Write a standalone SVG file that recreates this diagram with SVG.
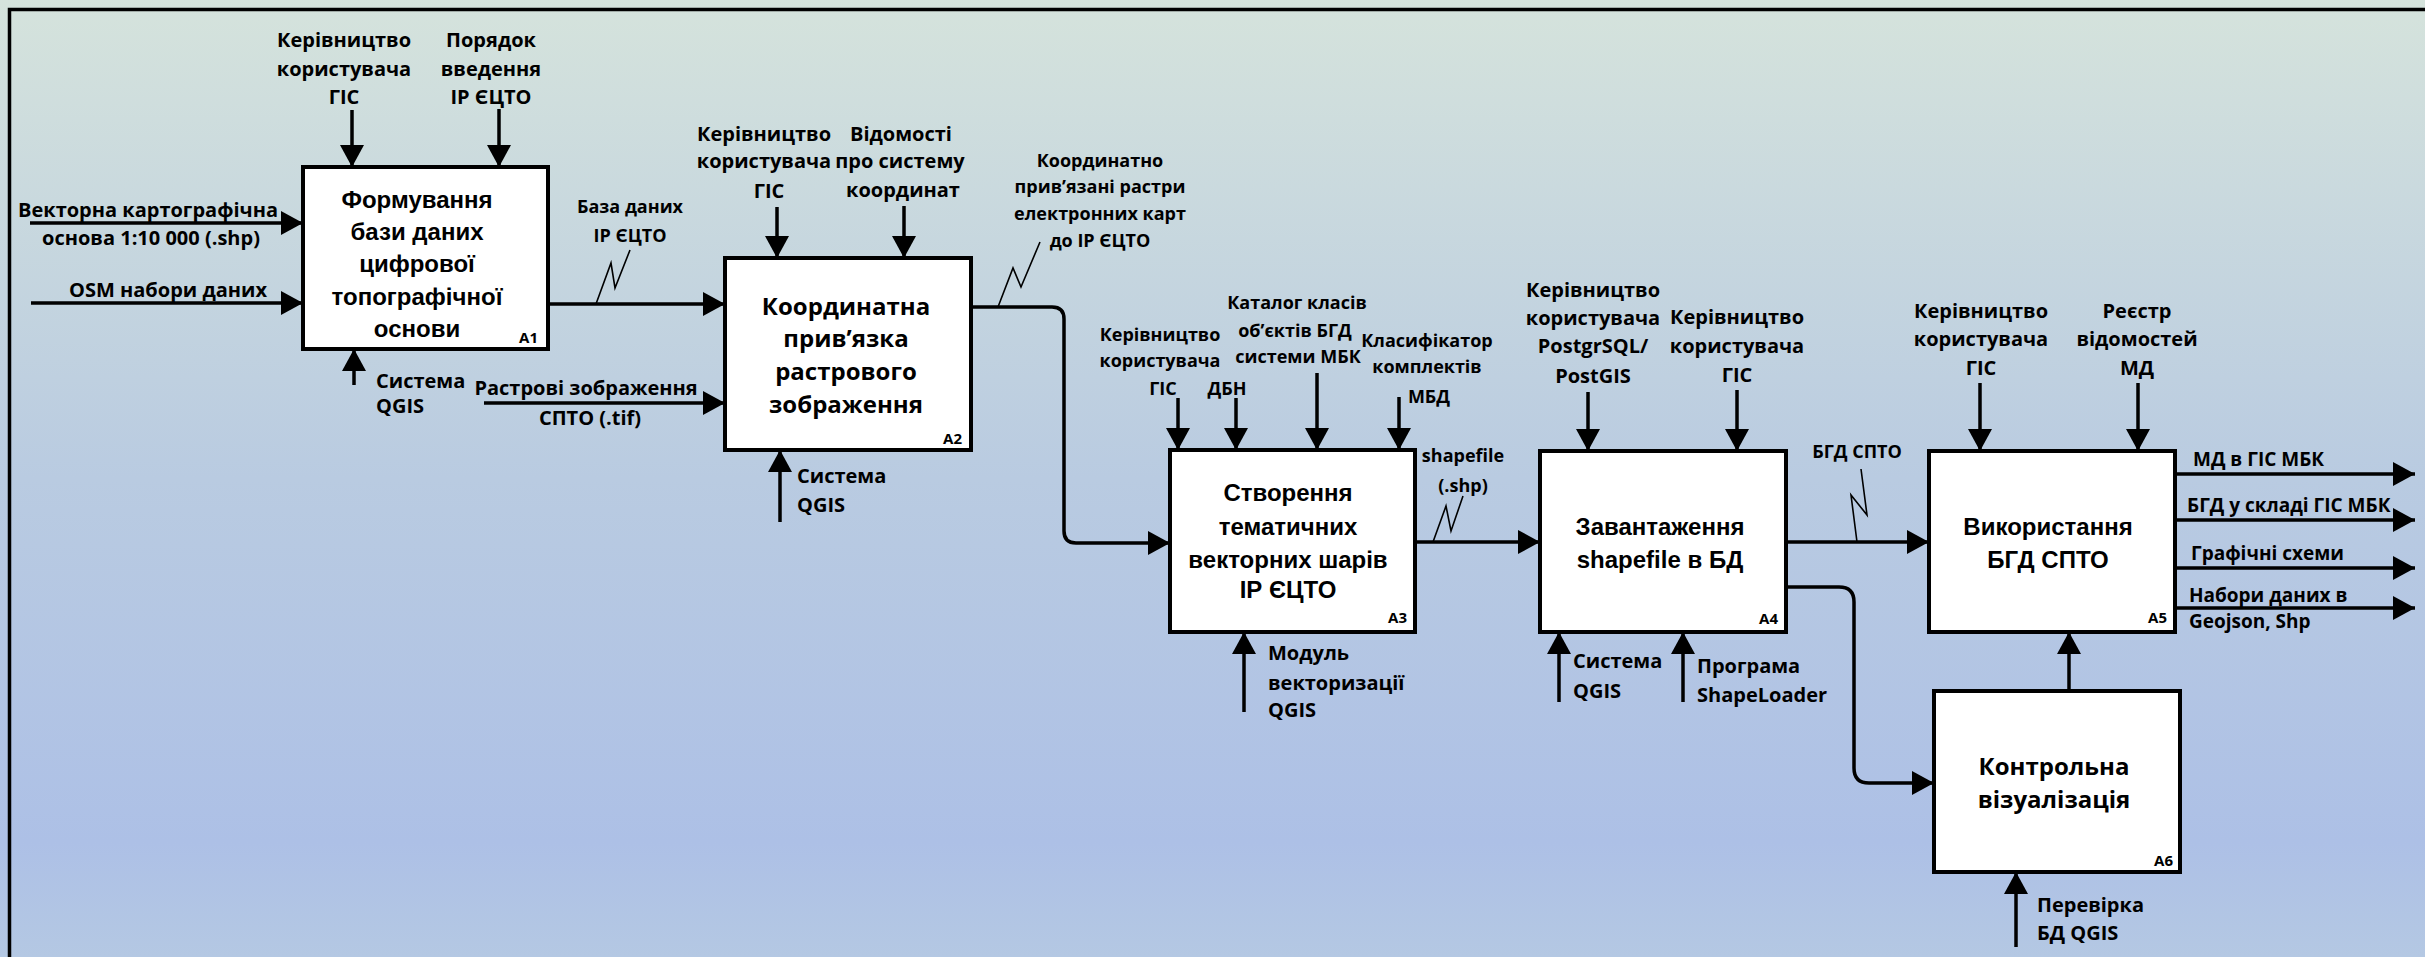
<svg xmlns="http://www.w3.org/2000/svg" width="2425" height="957" viewBox="0 0 2425 957">
<defs>
<linearGradient id="bg" x1="0" y1="0" x2="0" y2="1">
<stop offset="0" stop-color="#d5e3dc"/>
<stop offset="0.5" stop-color="#b9cbe1"/>
<stop offset="0.88" stop-color="#adc0e6"/>
<stop offset="1" stop-color="#b4c8e3"/>
</linearGradient>
<marker id="ah" markerUnits="userSpaceOnUse" markerWidth="22" markerHeight="24" viewBox="0 0 22 24" refX="22" refY="12" orient="auto">
<path d="M0,0 L22,12 L0,24 z" fill="#000"/>
</marker>
<style>
.box{fill:#fff;stroke:#000;stroke-width:4}
.c{fill:none;stroke:#000;stroke-width:3.5;marker-end:url(#ah)}
.z{fill:none;stroke:#000;stroke-width:1.6}
.lb{font-family:"Open Sans","Noto Sans",sans-serif;font-weight:bold;font-size:20px;fill:#000}
.m{text-anchor:middle}
.s18{font-size:18px}
.s19{font-size:19px}
.t1{font-family:"Liberation Sans",Arial,sans-serif;font-weight:bold;font-size:24px;text-anchor:middle;fill:#000}
.t2{font-family:"Open Sans","Noto Sans",sans-serif;font-weight:bold;font-size:24px;text-anchor:middle;fill:#000}
.id{font-family:"Open Sans","Noto Sans",sans-serif;font-weight:bold;font-size:15px;text-anchor:end;fill:#000}
</style>
</defs>
<rect x="0" y="0" width="2425" height="957" fill="url(#bg)"/>
<path d="M9.5,960 V9.5 H2430" fill="none" stroke="#000" stroke-width="3.5"/>

<g id="connectors">
<!-- A1 -->
<line class="c" x1="352" y1="110" x2="352" y2="167"/>
<line class="c" x1="499" y1="109" x2="499" y2="167"/>
<line class="c" x1="30" y1="223" x2="303" y2="223"/>
<line class="c" x1="31" y1="303" x2="303" y2="303"/>
<line class="c" x1="354" y1="385" x2="354" y2="349"/>
<line class="c" x1="548" y1="304" x2="725" y2="304"/>
<path class="z" d="M596,304 L611,263 L615,288 L630,250"/>
<line class="c" x1="484" y1="403" x2="725" y2="403"/>
<!-- A2 -->
<line class="c" x1="777" y1="207" x2="777" y2="258"/>
<line class="c" x1="904" y1="206" x2="904" y2="258"/>
<line class="c" x1="780" y1="522" x2="780" y2="450"/>
<path class="c" d="M971,307 H1052 Q1064,307 1064,319 V531 Q1064,543 1076,543 H1170"/>
<path class="z" d="M998,307 L1013,268 L1021,287 L1040,242"/>
<!-- A3 -->
<line class="c" x1="1178" y1="398" x2="1178" y2="450"/>
<line class="c" x1="1236" y1="398" x2="1236" y2="450"/>
<line class="c" x1="1317" y1="373" x2="1317" y2="450"/>
<line class="c" x1="1399" y1="397" x2="1399" y2="450"/>
<line class="c" x1="1244" y1="712" x2="1244" y2="632"/>
<line class="c" x1="1415" y1="542" x2="1540" y2="542"/>
<path class="z" d="M1433,542 L1446,506 L1451,531 L1463,496"/>
<!-- A4 -->
<line class="c" x1="1588" y1="392" x2="1588" y2="451"/>
<line class="c" x1="1737" y1="390" x2="1737" y2="451"/>
<line class="c" x1="1559" y1="702" x2="1559" y2="632"/>
<line class="c" x1="1683" y1="702" x2="1683" y2="632"/>
<line class="c" x1="1786" y1="542" x2="1929" y2="542"/>
<path class="z" d="M1857,542 L1851,495 L1867,515 L1861,469"/>
<path class="c" d="M1786,587 H1839 Q1854,587 1854,602 V768 Q1854,783 1869,783 H1934"/>
<!-- A5 -->
<line class="c" x1="1980" y1="383" x2="1980" y2="451"/>
<line class="c" x1="2138" y1="383" x2="2138" y2="451"/>
<line class="c" x1="2175" y1="474" x2="2415" y2="474"/>
<line class="c" x1="2175" y1="520" x2="2415" y2="520"/>
<line class="c" x1="2175" y1="568" x2="2415" y2="568"/>
<line class="c" x1="2175" y1="608" x2="2415" y2="608"/>
<!-- A6 -->
<line class="c" x1="2069" y1="691" x2="2069" y2="632"/>
<line class="c" x1="2016" y1="947" x2="2016" y2="872"/>

<!-- labels -->
<text class="lb m" x="344"><tspan x="344" y="47">Керівництво</tspan><tspan x="344" y="76">користувача</tspan><tspan x="344" y="104">ГІС</tspan></text>
<text class="lb m" x="491"><tspan x="491" y="47">Порядок</tspan><tspan x="491" y="76">введення</tspan><tspan x="491" y="104">ІР ЄЦТО</tspan></text>
<text class="lb m" x="148" y="217">Векторна картографічна</text>
<text class="lb m" x="151" y="245">основа 1:10 000 (.shp)</text>
<text class="lb m" x="168" y="297">OSM набори даних</text>
<text class="lb"><tspan x="376" y="388">Система</tspan><tspan x="376" y="413">QGIS</tspan></text>
<text class="lb m s18"><tspan x="630" y="213">База даних</tspan><tspan x="630" y="242">ІР ЄЦТО</tspan></text>
<text class="lb m" x="586" y="395">Растрові зображення</text>
<text class="lb m" x="590" y="425">СПТО (.tif)</text>

<text class="lb m"><tspan x="764" y="141">Керівництво</tspan><tspan x="764" y="168">користувача</tspan><tspan x="769" y="198">ГІС</tspan></text>
<text class="lb m"><tspan x="901" y="141">Відомості</tspan><tspan x="900" y="168">про систему</tspan><tspan x="903" y="197">координат</tspan></text>
<text class="lb"><tspan x="797" y="483">Система</tspan><tspan x="797" y="512">QGIS</tspan></text>
<text class="lb m s18"><tspan x="1100" y="167">Координатно</tspan><tspan x="1100" y="193">прив’язані растри</tspan><tspan x="1100" y="220">електронних карт</tspan><tspan x="1100" y="247">до ІР ЄЦТО</tspan></text>

<text class="lb m s18"><tspan x="1160" y="341">Керівництво</tspan><tspan x="1160" y="367">користувача</tspan><tspan x="1163" y="395">ГІС</tspan></text>
<text class="lb m s18" x="1227" y="395">ДБН</text>
<text class="lb m s18"><tspan x="1297" y="309">Каталог класів</tspan><tspan x="1295" y="337">об’єктів БГД</tspan><tspan x="1298" y="363">системи МБК</tspan></text>
<text class="lb m s18"><tspan x="1427" y="347">Класифікатор</tspan><tspan x="1427" y="373">комплектів</tspan><tspan x="1429" y="403">МБД</tspan></text>
<text class="lb"><tspan x="1268" y="660">Модуль</tspan><tspan x="1268" y="690">векторизації</tspan><tspan x="1268" y="717">QGIS</tspan></text>
<text class="lb m s18"><tspan x="1463" y="462">shapefile</tspan><tspan x="1463" y="492">(.shp)</tspan></text>

<text class="lb m"><tspan x="1593" y="297">Керівництво</tspan><tspan x="1593" y="325">користувача</tspan><tspan x="1593" y="353">PostgrSQL/</tspan><tspan x="1593" y="383">PostGIS</tspan></text>
<text class="lb m"><tspan x="1737" y="324">Керівництво</tspan><tspan x="1737" y="353">користувача</tspan><tspan x="1737" y="382">ГІС</tspan></text>
<text class="lb"><tspan x="1573" y="668">Система</tspan><tspan x="1573" y="698">QGIS</tspan></text>
<text class="lb"><tspan x="1697" y="673">Програма</tspan><tspan x="1697" y="702">ShapeLoader</tspan></text>
<text class="lb m s18" x="1857" y="458">БГД СПТО</text>

<text class="lb m"><tspan x="1981" y="318">Керівництво</tspan><tspan x="1981" y="346">користувача</tspan><tspan x="1981" y="375">ГІС</tspan></text>
<text class="lb m"><tspan x="2137" y="318">Реєстр</tspan><tspan x="2137" y="346">відомостей</tspan><tspan x="2137" y="375">МД</tspan></text>
<text class="lb s19" x="2193" y="466">МД в ГІС МБК</text>
<text class="lb s19" x="2187" y="512">БГД у складі ГІС МБК</text>
<text class="lb s19" x="2191" y="560">Графічні схеми</text>
<text class="lb s19"><tspan x="2189" y="602">Набори даних в</tspan><tspan x="2189" y="628">Geojson, Shp</tspan></text>
<text class="lb"><tspan x="2037" y="912">Перевірка</tspan><tspan x="2037" y="940">БД QGIS</tspan></text>
</g>

<g id="A1">
<rect class="box" x="303" y="167" width="245" height="182"/>
<text class="t1"><tspan x="417" y="208">Формування</tspan><tspan x="417" y="240">бази даних</tspan><tspan x="417" y="272">цифрової</tspan><tspan x="417" y="305">топографічної</tspan><tspan x="417" y="337">основи</tspan></text>
<text class="id" x="538" y="343">A1</text>
</g>
<g id="A2">
<rect class="box" x="725" y="258" width="246" height="192"/>
<text class="t2"><tspan x="846" y="315">Координатна</tspan><tspan x="846" y="347">прив’язка</tspan><tspan x="846" y="380">растрового</tspan><tspan x="846" y="413">зображення</tspan></text>
<text class="id" x="962" y="444">A2</text>
</g>
<g id="A3">
<rect class="box" x="1170" y="450" width="245" height="182"/>
<text class="t1"><tspan x="1288" y="501">Створення</tspan><tspan x="1288" y="535">тематичних</tspan><tspan x="1288" y="568">векторних шарів</tspan><tspan x="1288" y="598">ІР ЄЦТО</tspan></text>
<text class="id" x="1407" y="623">A3</text>
</g>
<g id="A4">
<rect class="box" x="1540" y="451" width="246" height="181"/>
<text class="t1"><tspan x="1660" y="535">Завантаження</tspan><tspan x="1660" y="568">shapefile в БД</tspan></text>
<text class="id" x="1778" y="624">A4</text>
</g>
<g id="A5">
<rect class="box" x="1929" y="451" width="246" height="181"/>
<text class="t1"><tspan x="2048" y="535">Використання</tspan><tspan x="2048" y="568">БГД СПТО</tspan></text>
<text class="id" x="2167" y="623">A5</text>
</g>
<g id="A6">
<rect class="box" x="1934" y="691" width="246" height="181"/>
<text class="t2"><tspan x="2054" y="775">Контрольна</tspan><tspan x="2054" y="808">візуалізація</tspan></text>
<text class="id" x="2173" y="866">A6</text>
</g>
</svg>
